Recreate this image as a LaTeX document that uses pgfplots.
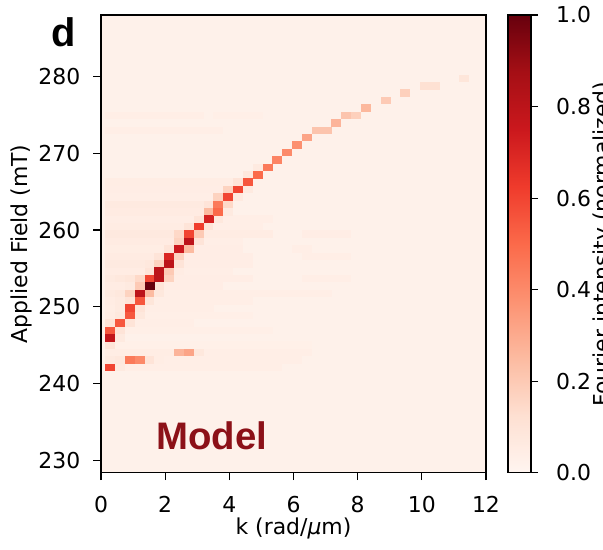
\documentclass[border=0pt]{standalone}
\usepackage{fontspec}
\setmainfont{DejaVu Sans}[ItalicFont={DejaVu Sans Oblique}]
\newfontfamily\arialf{Liberation Sans}
\usepackage{pgfplots}
\pgfplotsset{compat=1.18}
\definecolor{bgred}{RGB}{254,241,234}
\definecolor{modelred}{RGB}{140,17,24}
\pgfdeclareplotmark{cell}{\pgfpathrectangle{\pgfpoint{-5.0bp}{-3.78bp}}{\pgfpoint{10.0bp}{7.56bp}}\pgfusepathqfill}
\pgfplotsset{
  every tick label/.append style={font=\fontsize{22}{26}\selectfont},
  /pgf/number format/assume math mode=true,
}
\begin{document}
\begin{tikzpicture}
\begin{axis}[
  at={(101bp,77.3bp)}, anchor=south west,
  width=385bp, height=457.7bp, scale only axis,
  xmin=0, xmax=12, ymin=228.4, ymax=288,
  xtick={0,2,4,6,8,10,12}, ytick={230,240,250,260,270,280},
  xtick pos=bottom, ytick pos=left,
  tick align=outside, major tick length=7.5bp,
  yticklabel style={xshift=-9.7bp},
  xticklabel style={yshift=-13bp},
  axis line style={line width=1.1bp},
  every tick/.style={line width=1.1bp, black},
  axis background/.style={fill=bgred},
  colormap={reds}{rgb255=(255,245,240) rgb255=(254,224,210) rgb255=(252,187,161) rgb255=(252,146,114) rgb255=(251,106,74) rgb255=(239,59,44) rgb255=(203,24,29) rgb255=(165,15,21) rgb255=(103,0,13)},
  point meta min=0, point meta max=1,
  colorbar,
  colorbar/width=23bp,
  colorbar shift/.style={},
  colorbar style={at={(parent axis.south east)}, anchor=south west, xshift=22bp,
    width=23bp, height=457.7bp, scale only axis,
    axis background/.style={},
    ytick={0,0.2,0.4,0.6,0.8,1},
    ytick pos=right, yticklabel pos=right,
    yticklabel style={/pgf/number format/.cd, fixed, fixed zerofill, precision=1, /tikz/xshift=14.7bp},
    tick align=outside, major tick length=7bp,
    axis line style={line width=1.1bp},
    every tick/.style={line width=1.1bp, black}},
  xlabel={k (rad/{\itshape μ}m)},
  ylabel={Applied Field (mT)},
  every axis y label/.style={at={(axis description cs:-0.206,0.5)}, rotate=90, anchor=center, font=\fontsize{22}{26}\selectfont},
  every axis x label/.style={at={(axis description cs:0.5,-0.135)}, anchor=base, font=\fontsize{22}{26}\selectfont},
]
% faint halos and streaks
\addplot[scatter, only marks, mark=cell, point meta=explicit,
  scatter/use mapped color={fill=mapped color, draw=none}] table[meta=c] {
x y c
0.597 242.10 0.065
0.903 242.10 0.04
1.210 242.10 0.04
1.516 242.10 0.04
1.823 242.10 0.04
2.129 242.10 0.04
2.436 242.10 0.04
2.742 242.10 0.04
3.049 242.10 0.04
3.355 242.10 0.04
3.662 242.10 0.04
3.968 242.10 0.04
4.275 242.10 0.04
4.581 242.10 0.04
4.888 242.10 0.04
5.194 242.10 0.04
5.501 242.10 0.04
0.290 243.07 0.065
0.597 243.07 0.08
1.516 243.07 0.10
1.823 243.07 0.05
2.129 243.07 0.04
2.436 243.07 0.04
2.742 243.07 0.04
3.049 243.07 0.04
3.355 243.07 0.04
3.662 243.07 0.04
3.968 243.07 0.04
4.275 243.07 0.04
4.581 243.07 0.04
4.888 243.07 0.04
5.194 243.07 0.04
5.501 243.07 0.04
5.807 243.07 0.04
6.114 243.07 0.04
0.290 244.03 0.05
0.597 244.03 0.05
0.903 244.03 0.05
1.210 244.03 0.05
1.516 244.03 0.05
1.823 244.03 0.05
2.129 244.03 0.05
3.049 244.03 0.08
3.355 244.03 0.04
3.662 244.03 0.04
3.968 244.03 0.04
4.275 244.03 0.04
4.581 244.03 0.04
4.888 244.03 0.04
5.194 244.03 0.04
5.501 244.03 0.04
5.807 244.03 0.04
6.114 244.03 0.04
6.420 244.03 0.04
0.290 245.00 0.10
0.597 245.00 0.032
0.903 245.00 0.032
1.210 245.00 0.032
1.516 245.00 0.032
1.823 245.00 0.032
2.129 245.00 0.032
2.436 245.00 0.032
2.742 245.00 0.032
3.049 245.00 0.032
3.355 245.00 0.032
3.662 245.00 0.032
3.968 245.00 0.032
4.275 245.00 0.032
4.581 245.00 0.032
4.888 245.00 0.032
5.194 245.00 0.032
5.501 245.00 0.032
5.807 245.00 0.032
6.114 245.00 0.032
6.420 245.00 0.032
0.597 245.96 0.065
0.597 246.93 0.10
0.903 246.93 0.036
1.210 246.93 0.036
1.516 246.93 0.036
1.823 246.93 0.036
2.129 246.93 0.036
2.436 246.93 0.036
2.742 246.93 0.036
3.049 246.93 0.036
3.355 246.93 0.036
3.662 246.93 0.036
3.968 246.93 0.036
4.275 246.93 0.036
4.581 246.93 0.036
4.888 246.93 0.036
5.194 246.93 0.036
0.290 247.89 0.10
0.903 247.89 0.10
1.210 247.89 0.04
1.516 247.89 0.04
1.823 247.89 0.04
2.129 247.89 0.04
2.436 247.89 0.04
2.742 247.89 0.04
0.290 248.86 0.055
0.597 248.86 0.08
1.210 248.86 0.08
1.516 248.86 0.036
1.823 248.86 0.036
2.129 248.86 0.036
2.436 248.86 0.036
2.742 248.86 0.036
3.049 248.86 0.036
3.355 248.86 0.036
3.662 248.86 0.036
3.968 248.86 0.036
4.275 248.86 0.036
4.581 248.86 0.036
0.290 249.82 0.05
0.597 249.82 0.065
1.210 249.82 0.10
1.516 249.82 0.04
1.823 249.82 0.04
2.129 249.82 0.04
2.436 249.82 0.04
2.742 249.82 0.04
3.049 249.82 0.04
3.355 249.82 0.04
0.290 250.79 0.055
0.597 250.79 0.065
0.903 250.79 0.10
1.516 250.79 0.09
1.823 250.79 0.04
2.129 250.79 0.04
2.436 250.79 0.04
2.742 250.79 0.04
3.049 250.79 0.04
3.355 250.79 0.04
3.662 250.79 0.04
3.968 250.79 0.04
4.275 250.79 0.04
4.581 250.79 0.04
0.290 251.75 0.065
0.597 251.75 0.08
0.903 251.75 0.17
1.516 251.75 0.25
1.823 251.75 0.08
2.129 251.75 0.04
2.436 251.75 0.04
2.742 251.75 0.04
3.049 251.75 0.04
3.355 251.75 0.04
3.662 251.75 0.04
3.968 251.75 0.04
4.275 251.75 0.04
4.581 251.75 0.04
4.888 251.75 0.04
5.194 251.75 0.04
5.501 251.75 0.04
5.807 251.75 0.04
6.114 251.75 0.04
6.420 251.75 0.04
6.727 251.75 0.04
7.033 251.75 0.04
0.290 252.72 0.055
0.597 252.72 0.055
0.903 252.72 0.065
1.210 252.72 0.20
1.823 252.72 0.10
2.129 252.72 0.045
2.436 252.72 0.045
2.742 252.72 0.045
3.049 252.72 0.045
3.355 252.72 0.045
3.662 252.72 0.045
0.290 253.68 0.065
0.597 253.68 0.08
0.903 253.68 0.09
1.210 253.68 0.15
2.129 253.68 0.17
2.436 253.68 0.045
2.742 253.68 0.045
3.049 253.68 0.045
3.355 253.68 0.045
3.662 253.68 0.045
3.968 253.68 0.045
4.275 253.68 0.045
4.581 253.68 0.045
6.420 253.68 0.04
6.727 253.68 0.04
7.033 253.68 0.04
7.340 253.68 0.04
7.646 253.68 0.04
0.290 254.65 0.055
0.597 254.65 0.055
0.903 254.65 0.055
1.210 254.65 0.055
1.516 254.65 0.10
2.129 254.65 0.20
2.436 254.65 0.055
2.742 254.65 0.04
3.049 254.65 0.04
3.355 254.65 0.04
3.662 254.65 0.04
3.968 254.65 0.04
0.290 255.61 0.065
0.597 255.61 0.065
0.903 255.61 0.065
1.210 255.61 0.065
1.516 255.61 0.08
1.823 255.61 0.17
2.436 255.61 0.10
2.742 255.61 0.045
3.049 255.61 0.045
3.355 255.61 0.045
3.662 255.61 0.045
3.968 255.61 0.045
4.275 255.61 0.045
4.581 255.61 0.045
0.290 256.58 0.06
0.597 256.58 0.06
0.903 256.58 0.06
1.210 256.58 0.06
1.516 256.58 0.06
1.823 256.58 0.10
2.436 256.58 0.17
2.742 256.58 0.045
3.049 256.58 0.045
3.355 256.58 0.045
3.662 256.58 0.045
3.968 256.58 0.045
4.275 256.58 0.045
4.581 256.58 0.045
6.420 256.58 0.04
6.727 256.58 0.04
7.033 256.58 0.04
7.340 256.58 0.04
7.646 256.58 0.04
0.290 257.54 0.05
0.597 257.54 0.05
0.903 257.54 0.05
1.210 257.54 0.05
1.516 257.54 0.05
1.823 257.54 0.05
2.129 257.54 0.10
2.742 257.54 0.25
3.049 257.54 0.045
3.355 257.54 0.045
3.662 257.54 0.045
3.968 257.54 0.045
4.275 257.54 0.045
6.114 257.54 0.04
6.420 257.54 0.04
0.290 258.51 0.06
0.597 258.51 0.06
0.903 258.51 0.06
1.210 258.51 0.06
1.516 258.51 0.06
1.823 258.51 0.06
2.129 258.51 0.06
2.436 258.51 0.17
3.049 258.51 0.10
3.355 258.51 0.04
3.662 258.51 0.04
3.968 258.51 0.04
4.275 258.51 0.04
0.290 259.47 0.07
0.597 259.47 0.07
0.903 259.47 0.07
1.210 259.47 0.07
1.516 259.47 0.07
1.823 259.47 0.07
2.129 259.47 0.07
2.436 259.47 0.15
3.049 259.47 0.20
3.355 259.47 0.055
3.662 259.47 0.055
3.968 259.47 0.055
4.275 259.47 0.055
4.581 259.47 0.055
4.888 259.47 0.055
5.194 259.47 0.055
6.420 259.47 0.045
6.727 259.47 0.045
7.033 259.47 0.045
7.340 259.47 0.045
7.646 259.47 0.045
0.290 260.44 0.055
0.597 260.44 0.055
0.903 260.44 0.055
1.210 260.44 0.055
1.516 260.44 0.055
1.823 260.44 0.055
2.129 260.44 0.055
2.436 260.44 0.055
2.742 260.44 0.10
3.355 260.44 0.10
3.662 260.44 0.04
3.968 260.44 0.04
4.275 260.44 0.04
4.581 260.44 0.04
4.888 260.44 0.04
0.290 261.40 0.045
0.597 261.40 0.045
0.903 261.40 0.045
1.210 261.40 0.045
1.516 261.40 0.045
1.823 261.40 0.045
2.129 261.40 0.045
2.436 261.40 0.045
2.742 261.40 0.045
3.049 261.40 0.10
3.662 261.40 0.08
3.968 261.40 0.04
4.275 261.40 0.04
4.581 261.40 0.04
4.888 261.40 0.04
5.194 261.40 0.04
0.290 262.37 0.06
0.597 262.37 0.06
0.903 262.37 0.06
1.210 262.37 0.06
1.516 262.37 0.06
1.823 262.37 0.06
2.129 262.37 0.06
2.436 262.37 0.06
2.742 262.37 0.06
3.049 262.37 0.06
3.355 262.37 0.25
3.968 262.37 0.065
0.290 263.33 0.065
0.597 263.33 0.065
0.903 263.33 0.065
1.210 263.33 0.065
1.516 263.33 0.065
1.823 263.33 0.065
2.129 263.33 0.065
2.436 263.33 0.065
2.742 263.33 0.065
3.049 263.33 0.065
3.355 263.33 0.10
0.290 264.30 0.04
0.597 264.30 0.04
0.903 264.30 0.04
1.210 264.30 0.04
1.516 264.30 0.04
1.823 264.30 0.04
2.129 264.30 0.04
2.436 264.30 0.04
2.742 264.30 0.04
3.049 264.30 0.04
3.355 264.30 0.04
3.662 264.30 0.17
4.275 264.30 0.065
0.290 265.26 0.045
0.597 265.26 0.045
0.903 265.26 0.045
1.210 265.26 0.045
1.516 265.26 0.045
1.823 265.26 0.045
2.129 265.26 0.045
2.436 265.26 0.045
2.742 265.26 0.045
3.049 265.26 0.045
3.355 265.26 0.045
3.662 265.26 0.045
3.968 265.26 0.17
4.581 265.26 0.065
0.290 266.23 0.05
0.597 266.23 0.05
0.903 266.23 0.05
1.210 266.23 0.05
1.516 266.23 0.05
1.823 266.23 0.05
2.129 266.23 0.05
2.436 266.23 0.05
2.742 266.23 0.05
3.049 266.23 0.05
3.355 266.23 0.05
3.662 266.23 0.05
3.968 266.23 0.05
4.275 266.23 0.10
4.581 267.19 0.08
4.888 268.16 0.065
0.290 272.98 0.04
0.597 272.98 0.04
0.903 272.98 0.04
1.210 272.98 0.04
1.516 272.98 0.04
1.823 272.98 0.04
2.129 272.98 0.04
2.436 272.98 0.04
2.742 272.98 0.04
3.049 272.98 0.04
3.355 272.98 0.04
3.662 272.98 0.04
0.290 274.91 0.04
0.597 274.91 0.04
0.903 274.91 0.04
1.210 274.91 0.04
1.516 274.91 0.04
1.823 274.91 0.04
2.129 274.91 0.04
2.436 274.91 0.04
2.742 274.91 0.04
3.049 274.91 0.04
3.662 274.91 0.036
3.968 274.91 0.036
4.275 274.91 0.036
4.581 274.91 0.036
4.888 274.91 0.036
};
% main dispersion branch and low-field branch
\addplot[scatter, only marks, mark=cell, point meta=explicit,
  scatter/use mapped color={fill=mapped color, draw=none}] table[meta=c] {
x y c
0.290 242.10 0.60
0.903 243.07 0.45
1.210 243.07 0.40
2.436 244.03 0.27
2.742 244.03 0.32
0.290 245.96 0.78
0.290 246.93 0.55
0.597 247.89 0.55
0.903 248.86 0.55
0.903 249.82 0.60
1.210 250.79 0.55
1.210 251.75 0.80
1.516 252.72 1.00
1.516 253.68 0.60
1.823 253.68 0.80
1.823 254.65 0.80
2.129 255.61 0.80
2.129 256.58 0.70
2.436 257.54 0.75
2.742 258.51 0.80
2.742 259.47 0.60
3.049 260.44 0.62
3.355 261.40 0.72
3.662 262.37 0.50
3.662 263.33 0.45
3.968 263.33 0.15
3.968 264.30 0.60
4.275 265.26 0.60
4.581 266.23 0.55
4.888 267.19 0.50
5.194 268.16 0.45
5.501 269.12 0.42
5.807 270.09 0.40
6.114 271.05 0.38
6.420 272.02 0.32
6.727 272.98 0.22
7.033 272.98 0.22
7.340 273.95 0.27
7.646 274.91 0.22
7.953 274.91 0.18
8.259 275.88 0.26
8.872 276.84 0.20
9.485 277.81 0.18
10.098 278.77 0.12
10.405 278.77 0.12
11.324 279.74 0.09
};
\end{axis}
\node[anchor=base west, inner sep=0, font=\arialf\bfseries\fontsize{40}{44}\selectfont] at (51.2bp,503bp) {d};
\node[anchor=base west, inner sep=0, text=modelred, font=\arialf\bfseries\fontsize{38.5}{42}\selectfont] at (156.3bp,100.8bp) {Model};
\node[rotate=90, anchor=base, inner sep=0, font=\fontsize{22}{26}\selectfont] at (609bp,306bp) {Fourier intensity (normalized)};
\pgfresetboundingbox
\useasboundingbox (0,0) rectangle (603bp,550bp);
\end{tikzpicture}
\end{document}
